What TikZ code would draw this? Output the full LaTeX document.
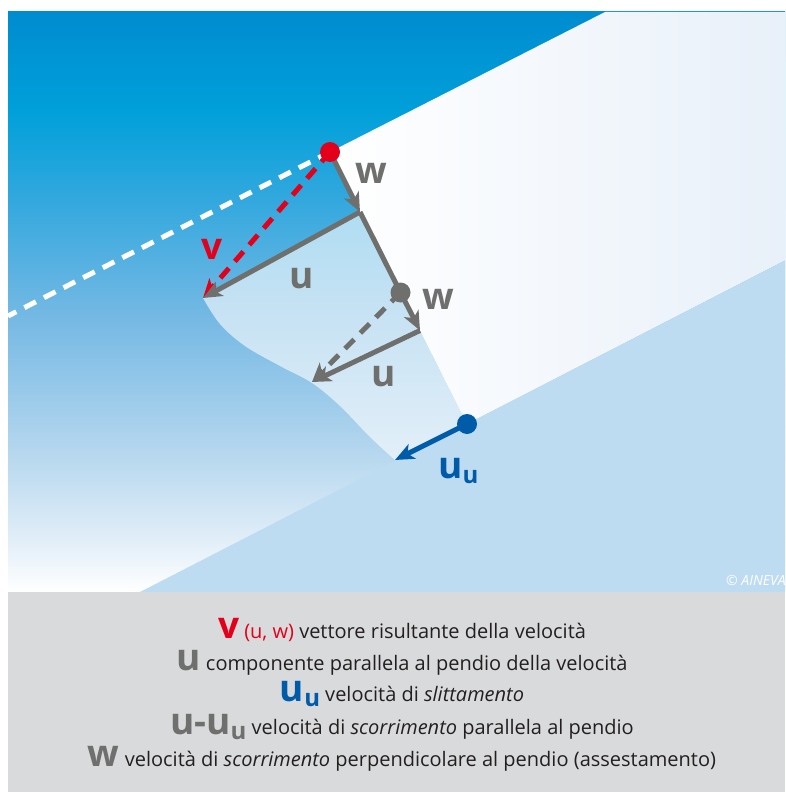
\documentclass[tikz,border=0pt]{standalone}
\usepackage{fontspec}
\setmainfont{Open Sans}
\usetikzlibrary{arrows.meta}
\definecolor{redc}{RGB}{227,0,27}
\definecolor{grayc}{RGB}{111,111,110}
\definecolor{bluec}{RGB}{0,92,169}
\definecolor{groundc}{RGB}{190,220,241}
\definecolor{legbg}{RGB}{217,218,220}
\definecolor{legtxt}{RGB}{35,31,32}
\definecolor{bandR}{RGB}{232,240,249}
\definecolor{skyA}{RGB}{0,140,208}
\definecolor{skyB}{RGB}{0,160,218}
\definecolor{skyC}{RGB}{50,168,222}
\definecolor{skyD}{RGB}{118,185,228}
\definecolor{skyE}{RGB}{180,214,238}
\definecolor{skyF}{RGB}{225,238,248}
\pgfdeclareverticalshading{skyshade}{100bp}{color(0bp)=(white); color(25bp)=(white); color(29.5bp)=(skyF); color(37.3bp)=(skyE); color(48.5bp)=(skyD); color(58.9bp)=(skyC); color(66.5bp)=(skyB); color(75bp)=(skyA); color(100bp)=(skyA)}
\newcommand\labfont{\fontsize{37}{37}\selectfont\bfseries}
\newcommand\subfont{\fontsize{24}{24}\selectfont\bfseries}
\newcommand\legfont{\fontsize{20}{23}\selectfont}
\newcommand\subsym[1]{\raisebox{-5pt}{\subfont #1}}
\tikzset{
  lab/.style={font=\labfont, text=grayc, inner sep=0pt},
  leg/.style={anchor=base, inner sep=0pt, font=\legfont, text=legtxt},
  arr/.style={line width=5pt, -{Stealth[length=19pt,width=16pt,inset=5pt]}},
  dashd/.style={dash pattern=on 13pt off 9pt},
  dotnode/.style={circle, inner sep=0pt, minimum size=20pt},
}
\begin{document}
\begin{tikzpicture}[x=1pt,y=-1pt]
\useasboundingbox (0,0) rectangle (785,792);
% key points
\coordinate (P1) at (605,12);
\coordinate (R) at (330,152);
\coordinate (DL) at (8,316);
\coordinate (A) at (360,212);
\coordinate (G) at (400.5,292.5);
\coordinate (C) at (420,330.5);
\coordinate (B) at (467,424);
\coordinate (T1) at (203,298);
\coordinate (T2) at (312,382);
\coordinate (T3) at (395,460);
\coordinate (GR) at (785,260.5);
\coordinate (GL) at (140,592);
% background
\shade[shading=skyshade] (8,12) rectangle (785,592);
\shade[left color=white, right color=bandR] (P1) -- (785,12) -- (GR) -- (B) -- (R) -- cycle;
\fill[white, opacity=0.6] (A) -- plot[smooth, tension=0.6] coordinates {(203,298) (220,324) (245,346) (280,366) (312,383) (340,406) (370,437) (395,460)} -- (B) -- cycle;
\fill[groundc] (GL) -- (GR) -- (785,592) -- cycle;
\fill[legbg] (8,592) rectangle (785,792);
% lines
\draw[white, line width=5pt, dashd] (R) -- (DL);
\draw[redc, arr, dashd] (R) -- (T1);
\draw[grayc, arr] (R) -- (A);
\draw[grayc, line width=5pt] (A) -- (G);
\draw[grayc, arr] (A) -- (T1);
\draw[grayc, arr, dashd] (G) -- (T2);
\draw[grayc, arr] (G) -- (C);
\draw[grayc, arr] (C) -- (T2);
\draw[bluec, arr] (B) -- (T3);
% dots
\node[dotnode, fill=redc] (Rdot) at (R) {};
\node[dotnode, fill=grayc] (Gdot) at (G) {};
\node[dotnode, fill=bluec] (Bdot) at (B) {};
% labels
\node[lab] (lw1) at (371,173) {w};
\node[lab, text=redc] (lv) at (212,249) {v};
\node[lab] (lu1) at (302,279) {u};
\node[lab] (lw2) at (438,299) {w};
\node[lab] (lu2) at (384,377) {u};
\node[lab, text=bluec, anchor=base west] (luu) at (438,478) {u\subsym{u}};
\node[anchor=base west, inner sep=0pt, text=white, font=\fontsize{14}{15}\selectfont\itshape] (copy) at (726,585) {© AINEVA};
% legend
\node[leg] (leg1) at (402,638) {{\color{redc}\labfont v} {\color{redc}(u, w)} vettore risultante della velocità};
\node[leg] (leg2) at (402,670) {{\color{grayc}\labfont u} componente parallela al pendio della velocità};
\node[leg] (leg3) at (402,701) {{\color{bluec}\labfont u\subsym{u}} velocità di \textit{slittamento}};
\node[leg] (leg4) at (402,734) {{\color{grayc}\labfont u-u\subsym{u}} velocità di \textit{scorrimento} parallela al pendio};
\node[leg] (leg5) at (402,766) {{\color{grayc}\labfont w} velocità di \textit{scorrimento} perpendicolare al pendio (assestamento)};
\end{tikzpicture}
\end{document}
